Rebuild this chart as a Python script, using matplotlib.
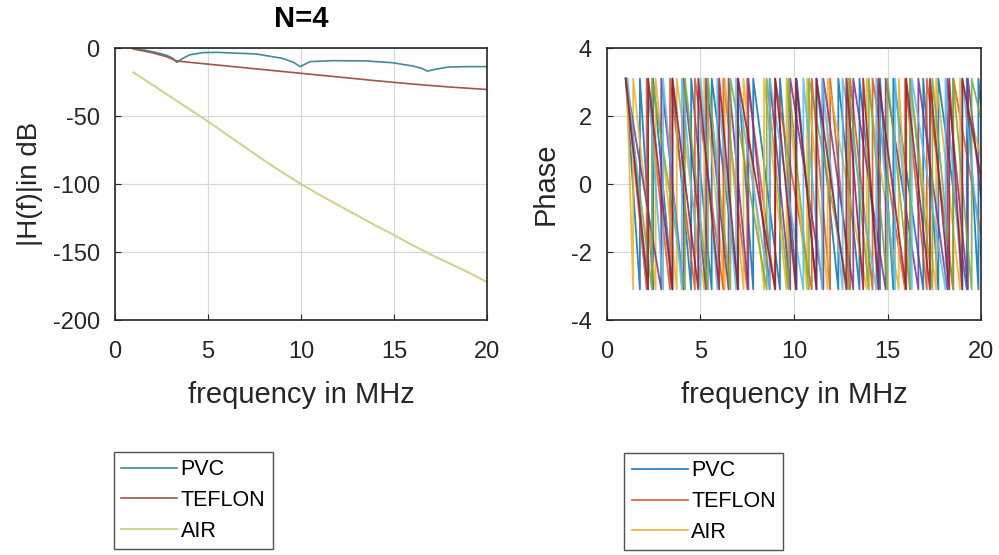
import matplotlib
matplotlib.use("Agg")
import matplotlib.pyplot as plt

plt.rcParams["font.family"] = ["Liberation Sans", "DejaVu Sans"]
plt.rcParams["axes.unicode_minus"] = False

# |H(f)| in dB for N=4, one frequency grid per cable
pvc_freq = [1.0, 1.6, 2.2, 2.8, 3.1, 3.33, 3.6, 4.0, 4.7, 5.5, 7.6, 9.0, 9.6, 9.95, 10.5, 11.7,
            13.5, 14.9, 16.0, 16.5, 16.8, 17.2, 17.9, 19.0, 20.0]
pvc_db = [-0.7, -1.6, -3.2, -5.5, -7.5, -10.5, -8.0, -5.1, -3.4, -3.2, -4.4, -7.6, -10.5, -13.7,
          -10.0, -9.3, -9.5, -10.8, -13.2, -15.0, -17.0, -15.7, -14.0, -13.7, -13.7]

teflon_freq = [1.0, 2.0, 2.8, 3.3, 4.0, 6.0, 8.0, 10.0, 12.0, 14.0, 16.0, 18.0, 20.0]
teflon_db = [-0.7, -3.5, -6.5, -9.5, -10.5, -13.2, -15.9, -18.6, -21.3, -24.0, -26.5, -28.7, -30.5]

air_freq = [1.0, 2.0, 3.0, 4.0, 5.0, 6.0, 7.0, 8.0, 9.0, 10.0, 11.0, 12.0, 13.0, 14.0, 15.0,
            16.0, 17.0, 18.0, 19.0, 20.0]
air_db = [-18.0, -27.0, -36.0, -45.0, -54.0, -63.5, -73.0, -82.5, -91.5, -100.0, -108.0, -115.5,
          -123.0, -130.5, -137.5, -145.0, -152.0, -158.5, -165.0, -172.0]

# wrapped phase: frequencies (MHz) where each trace jumps back up to +pi
phase_tops = [
    [1.0, 1.76, 2.47, 3.5, 4.5, 5.6, 7.02, 7.82, 9.25, 10.14, 11.2, 12.37, 13.5, 14.6, 15.31,
     16.91, 17.72, 19.24, 19.86],
    [1.0, 2.12, 3.37, 4.7, 6.22, 7.5, 8.98, 10.95, 11.93, 13.0, 14.2, 15.94, 17.1, 18.52],
    [1.05, 1.4, 2.6, 3.73, 5.2, 6.3, 7.3, 8.4, 9.6, 10.7, 11.8, 13.89, 15.6, 16.2, 17.6, 18.88],
    [1.0, 2.9, 4.1, 5.3, 6.5, 7.56, 8.7, 9.8, 11.57, 13.17, 14.9, 16.65, 18.2, 19.3],
    [1.0, 2.4, 4.17, 5.4, 6.6, 8.54, 9.7, 10.8, 12.9, 14.0, 15.0, 16.2, 17.4, 18.5, 19.5],
    [1.1, 2.2, 3.0, 4.0, 5.0, 5.9, 6.9, 8.7, 10.5, 11.5, 12.6, 14.4, 15.4, 16.3, 18.1, 19.0],
    [1.0, 2.2, 3.5, 4.88, 6.0, 7.0, 9.0, 10.1, 11.2, 12.8, 13.7, 14.51, 16.0, 17.27, 18.3, 19.0],
]
phase_end = [2.3, -1.5, 0.8, -0.4, 1.9, -2.1, 0.2]
phase_colors = ["#0072BD", "#D95319", "#EDB120", "#7E2F8E", "#77AC30", "#4DBEEE", "#A2142F"]
PHASE_MAX = 3.1

legend_labels = ["PVC", "TEFLON", "AIR"]

text_color = "#262626"
fig = plt.figure(figsize=(9.99, 5.55), dpi=100)
ax1 = fig.add_axes([0.1151, 0.4234, 0.3724, 0.4901])
ax2 = fig.add_axes([0.6076, 0.4234, 0.3744, 0.4901])

l1, = ax1.plot(pvc_freq, pvc_db, color="#3d8c98", lw=1.2)
l2, = ax1.plot(teflon_freq, teflon_db, color="#a2554a", lw=1.2)
l3, = ax1.plot(air_freq, air_db, color="#d2d28c", lw=1.5)
ax1.set_xlim(0, 20)
ax1.set_ylim(-200, 0)
ax1.set_yticks([-200, -150, -100, -50, 0])
ax1.set_title("N=4", fontsize=21, fontweight="bold", color="black", pad=15)
ax1.set_ylabel("|H(f)|in dB", fontsize=20, labelpad=7)

handles = []
for tops, end, c in zip(phase_tops, phase_end, phase_colors):
    xs, ys = [tops[0]], [PHASE_MAX]
    for t in tops[1:]:
        xs += [t, t]
        ys += [-PHASE_MAX, PHASE_MAX]
    xs.append(20.0)
    ys.append(end)
    h, = ax2.plot(xs, ys, color=c, lw=1.3, alpha=0.85)
    handles.append(h)
ax2.set_xlim(0, 20)
ax2.set_ylim(-4, 4)
ax2.set_yticks([-4, -2, 0, 2, 4])
ax2.set_ylabel("Phase", fontsize=21, labelpad=8)

for ax in (ax1, ax2):
    ax.set_xticks([0, 5, 10, 15, 20])
    ax.set_xlabel("frequency in MHz", fontsize=21, color=text_color, labelpad=13)
    ax.yaxis.label.set_color(text_color)
    ax.grid(True, color="#d9d9d9", lw=0.9)
    ax.set_axisbelow(True)
    ax.tick_params(direction="in", length=4, labelsize=17, colors=text_color)
    ax.tick_params(axis="x", pad=15)
    ax.tick_params(axis="y", pad=11)
    for s in ax.spines.values():
        s.set_color(text_color)
        s.set_linewidth(1.2)

leg_kw = dict(loc="upper left", fontsize=15.5, frameon=True, fancybox=False,
              edgecolor=text_color, handlelength=2.6, handletextpad=0.15,
              labelspacing=0.45, borderpad=0.35, borderaxespad=0)
leg1 = fig.legend([l1, l2, l3], legend_labels, bbox_to_anchor=(0.114, 0.186), **leg_kw)
leg2 = fig.legend(handles[:3], legend_labels, bbox_to_anchor=(0.625, 0.184), **leg_kw)
for leg in (leg1, leg2):
    leg.get_frame().set_linewidth(1.0)

fig.savefig("out.png", dpi=100)
